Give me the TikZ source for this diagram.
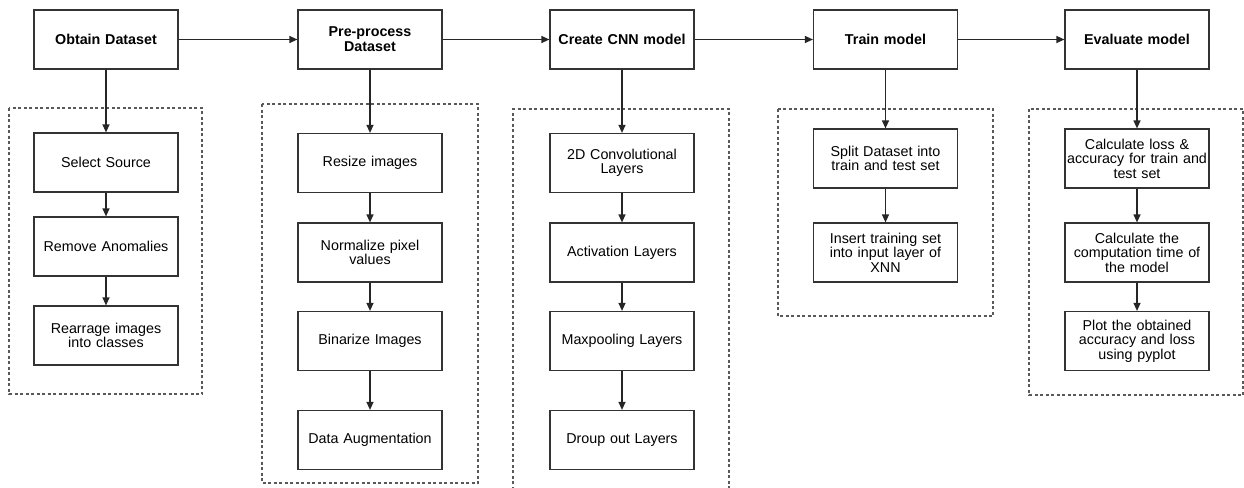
\documentclass[tikz,border=0pt]{standalone}
\usepackage{fontspec}
\setmainfont{Liberation Sans}
\usetikzlibrary{arrows.meta}
\begin{document}
\begin{tikzpicture}[x=1pt,y=-1pt,
  box/.style={draw=black!80, line width=1.2pt, minimum width=144pt, minimum height=59pt,
    inner sep=1pt, align=center, font=\fontsize{14.3}{14.6}\selectfont, text width=142pt},
  head/.style={box, font=\fontsize{14.3}{15}\selectfont\bfseries},
  grp/.style={draw=black!65, line width=1.1pt, dash pattern=on 3pt off 2.5pt},
  arr/.style={draw=black!85, line width=1.2pt, -{Triangle[length=8pt,width=7pt]}}]
\useasboundingbox (0,0) rectangle (1244,487);
\fill[white] (0,0) rectangle (1244,487);
% dashed containers
\draw[grp] (9,108) rectangle (202,394);
\draw[grp] (262,104) rectangle (478,483);
\draw[grp] (513,495) -- (513,109) -- (729,109) -- (729,495);
\draw[grp] (778,109) rectangle (993,316);
\draw[grp] (1029,109) rectangle (1243,395);
% top row
\node[head] (h1) at (106,39.5) {Obtain Dataset};
\node[head] (h2) at (370,39.5) {Pre-process\\Dataset};
\node[head] (h3) at (622,39.5) {Create CNN model};
\node[head] (h4) at (885.5,39.5) {Train model};
\node[head] (h5) at (1137,39.5) {Evaluate model};
% column 1
\node[box] (a1) at (106,162.5) {Select Source};
\node[box] (a2) at (106,246.5) {Remove Anomalies};
\node[box] (a3) at (106,335.5) {Rearrage images\\into classes};
% column 2
\node[box] (b1) at (370,163) {Resize images};
\node[box] (b2) at (370,252.5) {Normalize pixel\\values};
\node[box] (b3) at (370,341) {Binarize Images};
\node[box] (b4) at (370,440) {Data Augmentation};
% column 3
\node[box] (c1) at (622,163) {2D Convolutional\\Layers};
\node[box] (c2) at (622,252.5) {Activation Layers};
\node[box] (c3) at (622,341) {Maxpooling Layers};
\node[box] (c4) at (622,440) {Droup out Layers};
% column 4
\node[box] (d1) at (885.5,158.5) {Split Dataset into\\train and test set};
\node[box] (d2) at (885.5,252.5) {Insert training set\\into input layer of\\XNN};
% column 5
\node[box] (e1) at (1137,158.5) {Calculate loss \&\\accuracy for train and\\test set};
\node[box] (e2) at (1137,252.5) {Calculate the\\computation time of\\the model};
\node[box] (e3) at (1137,341) {Plot the obtained\\accuracy and loss\\using pyplot};
% arrows
\draw[arr] (h1) -- (h2);
\draw[arr] (h2) -- (h3);
\draw[arr] (h3) -- (h4);
\draw[arr] (h4) -- (h5);
\draw[arr] (h1) -- (a1);
\draw[arr] (a1) -- (a2);
\draw[arr] (a2) -- (a3);
\draw[arr] (h2) -- (b1);
\draw[arr] (b1) -- (b2);
\draw[arr] (b2) -- (b3);
\draw[arr] (b3) -- (b4);
\draw[arr] (h3) -- (c1);
\draw[arr] (c1) -- (c2);
\draw[arr] (c2) -- (c3);
\draw[arr] (c3) -- (c4);
\draw[arr] (h4) -- (d1);
\draw[arr] (d1) -- (d2);
\draw[arr] (h5) -- (e1);
\draw[arr] (e1) -- (e2);
\draw[arr] (e2) -- (e3);
\end{tikzpicture}
\end{document}
